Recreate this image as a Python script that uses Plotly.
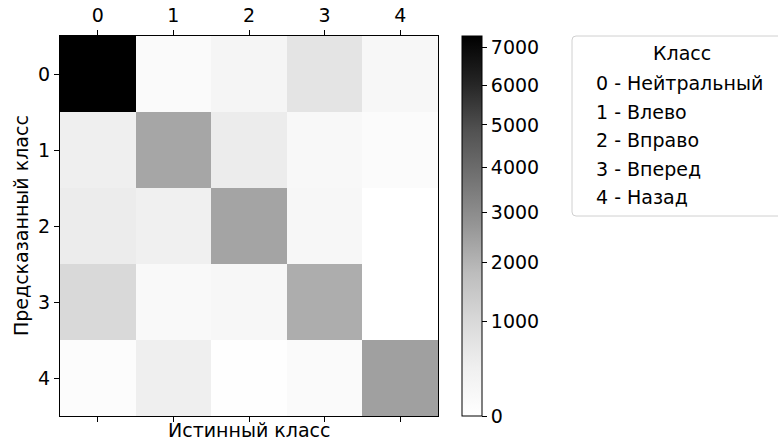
import plotly.graph_objects as go
import numpy as np

# ---- data ----
classes = ["0", "1", "2", "3", "4"]
legend_title = "Класс"
legend_items = ["0 - Нейтральный", "1 - Влево", "2 - Вправо", "3 - Вперед", "4 - Назад"]
x_title = "Истинный класс"
y_title = "Предсказанный класс"
row0 = [7320, 80, 210, 680, 150]
row1 = [400, 2330, 470, 125, 55]
row2 = [470, 375, 2380, 150, 0]
row3 = [1010, 100, 150, 2165, 0]
row4 = [40, 400, 10, 80, 2475]
cbar_ticks = [0, 1000, 2000, 3000, 4000, 5000, 6000, 7000]
vmax = 7320
gamma = 0.7

z = np.array([row0, row1, row2, row3, row4], dtype=float)
zt = (z / vmax) ** gamma

greys = [[0.0, "#ffffff"], [0.125, "#f0f0f0"], [0.25, "#d9d9d9"], [0.375, "#bdbdbd"],
         [0.5, "#969696"], [0.625, "#737373"], [0.75, "#525252"], [0.875, "#252525"],
         [1.0, "#000000"]]

W, H = 778, 440
L, R, T, B = 60, 438, 36, 416
pw, ph = R - L, B - T
def xp(px): return (px - L) / pw
def yp(py): return (B - py) / ph

FONT = "DejaVu Sans"
FS = 19

fig = go.Figure(go.Heatmap(
    z=zt, x=list(range(5)), y=list(range(5)),
    customdata=z, hovertemplate="%{customdata}<extra></extra>",
    colorscale=greys, zmin=0, zmax=1,
    colorbar=dict(
        x=xp(462), xanchor="left", xref="paper",
        y=0.5, yanchor="middle", len=1.0, lenmode="fraction",
        thickness=20, thicknessmode="pixels",
        outlinewidth=1, outlinecolor="black",
        tickvals=[(v / vmax) ** gamma for v in cbar_ticks],
        ticktext=[str(v) for v in cbar_ticks],
        ticks="outside", ticklen=5, tickwidth=1, tickcolor="black",
        tickfont=dict(size=FS, family=FONT, color="black"),
        xpad=0, ypad=0,
    ),
))

fig.update_layout(
    width=W, height=H,
    margin=dict(l=L, r=W - R, t=T, b=H - B, pad=0, autoexpand=False),
    paper_bgcolor="white", plot_bgcolor="white",
    font=dict(family=FONT, size=FS, color="black"),
    xaxis=dict(
        side="top", tickvals=list(range(5)), ticktext=classes,
        range=[-0.5, 4.5], showgrid=False, zeroline=False,
        showline=True, linecolor="black", linewidth=1, mirror="ticks",
        ticks="outside", ticklen=5, tickwidth=1, tickcolor="black",
        tickfont=dict(size=FS, family=FONT), automargin=False,
    ),
    yaxis=dict(
        tickvals=list(range(5)), ticktext=classes,
        range=[4.5, -0.5], showgrid=False, zeroline=False,
        showline=True, linecolor="black", linewidth=1, mirror=True,
        ticks="outside", ticklen=5, tickwidth=1, tickcolor="black",
        tickfont=dict(size=FS, family=FONT), automargin=False,
    ),
    showlegend=False,
)

annotations = [
    dict(text=x_title, x=0.5, y=yp(430), xref="paper", yref="paper",
         xanchor="center", yanchor="middle", showarrow=False,
         font=dict(size=FS, family=FONT, color="black")),
    dict(text=y_title, x=xp(21), y=0.5, xref="paper", yref="paper",
         xanchor="center", yanchor="middle", showarrow=False, textangle=-90,
         font=dict(size=FS, family=FONT, color="black")),
    dict(text=legend_title, x=xp(682), y=yp(53), xref="paper", yref="paper",
         xanchor="center", yanchor="middle", showarrow=False,
         font=dict(size=FS, family=FONT, color="black")),
]
for i, item in enumerate(legend_items):
    annotations.append(dict(text=item, x=xp(594), y=yp(83 + i * 28.5), xref="paper", yref="paper",
                            xanchor="left", yanchor="middle", showarrow=False,
                            font=dict(size=FS, family=FONT, color="black")))
fig.update_layout(annotations=annotations)

# rounded legend frame
x0, x1, y0, y1, r = xp(572), xp(800), yp(36), yp(216), 4
rx, ry = r / pw, r / ph
path = (f"M {x0+rx},{y0} L {x1-rx},{y0} Q {x1},{y0} {x1},{y0-ry} "
        f"L {x1},{y1+ry} Q {x1},{y1} {x1-rx},{y1} L {x0+rx},{y1} "
        f"Q {x0},{y1} {x0},{y1+ry} L {x0},{y0-ry} Q {x0},{y0} {x0+rx},{y0} Z")
fig.add_shape(type="path", path=path, xref="paper", yref="paper",
              line=dict(color="#d0d0d0", width=1), fillcolor="rgba(255,255,255,0.8)")

fig.write_html("out.html", config={"displayModeBar": False},
               post_script="document.body.style.margin='0px';document.body.style.overflow='hidden';")
